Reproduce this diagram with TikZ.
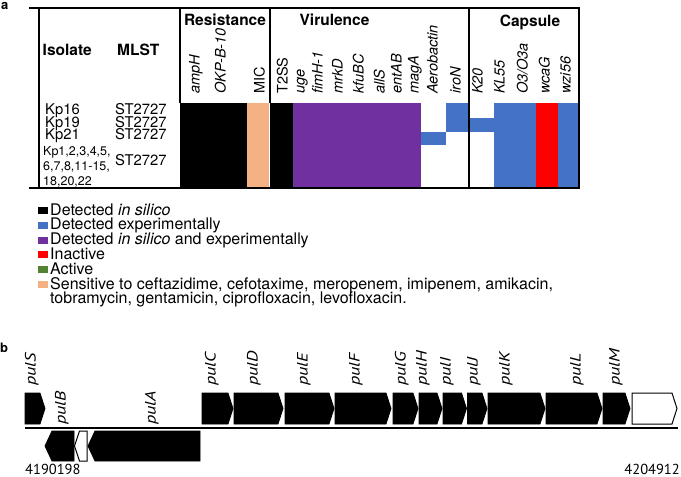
\documentclass[tikz,border=0pt]{standalone}
\usepackage{fontspec}
\setmainfont{TeX Gyre Heros}
\newfontfamily\genefont{PT Sans}
\definecolor{cblue}{RGB}{68,114,196}
\definecolor{cpurple}{RGB}{112,48,160}
\definecolor{cred}{RGB}{255,0,0}
\definecolor{cgreen}{RGB}{84,130,53}
\definecolor{cpeach}{RGB}{244,177,131}
\newcommand{\genefwd}[3]{\draw[#3] (#1,393) -- (#2-5,393) -- (#2,408.5) -- (#2-5,424) -- (#1,424) -- cycle;}
\newcommand{\generev}[4]{\draw[#4] (#1,446) -- (#2,431) -- (#3,431) -- (#3,461) -- (#2,461) -- cycle;}
\newcommand{\legsq}[2]{\fill[#1] (38,#2-8) rectangle (47.5,#2-1);}
\begin{document}
\begin{tikzpicture}[x=1pt,y=-1pt,
  frame/.style={line width=1.8pt},
  hdr/.style={inner sep=0,anchor=base,font=\fontsize{15.5}{15.5}\selectfont\bfseries},
  colhdr/.style={inner sep=0,rotate=90,anchor=mid west,font=\fontsize{14.5}{14.5}\selectfont\itshape},
  colhdrup/.style={colhdr,font=\fontsize{14.5}{14.5}\selectfont},
  rowtxt/.style={inner sep=0,anchor=base west,font=\fontsize{14.8}{14.8}\selectfont},
  smalltxt/.style={inner sep=0,anchor=base west,font=\fontsize{12.5}{12.5}\selectfont},
  legtxt/.style={inner sep=0,anchor=base west,font=\fontsize{16}{16}\selectfont},
  panel/.style={inner sep=0,anchor=base west,font=\fontsize{13}{13}\selectfont\bfseries},
  genelab/.style={inner sep=0,rotate=90,anchor=mid west,font=\genefont\fontsize{15}{15}\selectfont\itshape},
  gene/.style={fill=black,draw=black,line width=0.8pt},
  emptygene/.style={fill=white,draw=black,line width=1pt},
  coordtxt/.style={inner sep=0,anchor=base west,font=\genefont\fontsize{14.5}{14.5}\selectfont},
]
\useasboundingbox (0,0) rectangle (681,477);

% ---------- panel a ----------
\node[panel] (pa) at (1,9.5) {a};

% cells
\fill (180,103) rectangle (247,188);
\fill[cpeach] (247,103) rectangle (268.8,188);
\fill (270,103) rectangle (293,188);
\fill[cpurple] (293,103) rectangle (421,188);
\fill[cblue] (421,132) rectangle (446,145);
\fill[cblue] (446,103) rectangle (469,132);
\fill[cblue] (469,118) rectangle (494,132);
\fill[cblue] (494,103) rectangle (536,188);
\fill[cred] (536,103) rectangle (558,188);
\fill[cblue] (558,103) rectangle (579,188);

% frame
\draw[frame] (29,8) -- (580,8);
\draw[frame] (29,188) -- (580,188);
\draw[frame] (39,8) -- (39,188);
\draw[frame] (180,8) -- (180,103);
\draw[frame] (270,8) -- (270,103);
\draw[frame] (469,8) -- (469,188);
\draw[frame] (579,8) -- (579,188);

% group headers
\node[hdr] (hres) at (225,25) {Resistance};
\node[hdr] (hvir) at (334.5,25) {Virulence};
\node[hdr] (hcap) at (530,26) {Capsule};
\node[hdr,anchor=base west] (hiso) at (42.5,55) {Isolate};
\node[hdr,anchor=base west] (hmlst) at (117,55) {MLST};

% column headers
\node[colhdr] (c1) at (197,94) {ampH};
\node[colhdr] (c2) at (223,94) {OKP-B-10};
\node[colhdrup] (c3) at (262,94) {MIC};
\node[colhdrup] (c4) at (285,94) {T2SS};
\node[colhdr] (c5) at (302,94) {uge};
\node[colhdr] (c6) at (320,94) {fimH-1};
\node[colhdr] (c7) at (340,94) {mrkD};
\node[colhdr] (c8) at (361,94) {kfuBC};
\node[colhdr] (c9) at (382,94) {allS};
\node[colhdr] (c10) at (399,94) {entAB};
\node[colhdr] (c11) at (416,94) {magA};
\node[colhdr] (c12) at (435,94) {Aerobactin};
\node[colhdr] (c13) at (458,94) {iroN};
\node[colhdr] (c14) at (480,94) {K20};
\node[colhdr] (c15) at (502,94) {KL55};
\node[colhdr] (c16) at (525,94) {O3/O3a};
\node[colhdr] (c17) at (547,94) {wcaG};
\node[colhdr] (c18) at (568,94) {wzi56};

% rows
\node[rowtxt] (r1) at (45,114.5) {Kp16};
\node[rowtxt] (r2) at (45,127) {Kp19};
\node[rowtxt] (r3) at (45,139.5) {Kp21};
\node[rowtxt] (m1) at (115,114.5) {ST2727};
\node[rowtxt] (m2) at (115,127) {ST2727};
\node[rowtxt] (m3) at (115,139.5) {ST2727};
\node[smalltxt] (r4a) at (43,155) {Kp1,2,3,4,5,};
\node[smalltxt] (r4b) at (43,170.5) {6,7,8,11-15,};
\node[smalltxt] (r4c) at (43,185) {18,20,22};
\node[rowtxt] (m4) at (115,165.5) {ST2727};

% legend
\legsq{black}{215}
\node[legtxt] (l1) at (50,215) {Detected \textit{in silico}};
\legsq{cblue}{229.8}
\node[legtxt] (l2) at (50,229.8) {Detected experimentally};
\legsq{cpurple}{244.6}
\node[legtxt] (l3) at (50,244.6) {Detected \textit{in silico} and experimentally};
\legsq{cred}{259.4}
\node[legtxt] (l4) at (50,259.4) {Inactive};
\legsq{cgreen}{274.2}
\node[legtxt] (l5) at (50,274.2) {Active};
\legsq{cpeach}{289}
\node[legtxt] (l6) at (50,289) {Sensitive to ceftazidime, cefotaxime, meropenem, imipenem, amikacin,};
\node[legtxt] (l7) at (50,303.8) {tobramycin, gentamicin, ciprofloxacin, levofloxacin.};

% ---------- panel b ----------
\node[panel] (pb) at (0,352) {b};

\draw[line width=1.2pt] (25,428) -- (678,428);

% top strand genes
\genefwd{25}{45}{gene}
\genefwd{202}{233}{gene}
\genefwd{234}{283}{gene}
\genefwd{285}{334}{gene}
\genefwd{335}{391}{gene}
\genefwd{393}{418}{gene}
\genefwd{419}{442}{gene}
\genefwd{443}{466.5}{gene}
\genefwd{467.5}{487}{gene}
\genefwd{488}{545}{gene}
\genefwd{546}{602}{gene}
\genefwd{603}{630}{gene}
\genefwd{632}{677}{emptygene}

% bottom strand genes
\generev{45}{52}{74}{gene}
\generev{74.5}{79.5}{87}{emptygene}
\generev{88}{95}{200}{gene}

% gene labels
\node[genelab] (gS) at (33,386) {\scalebox{1.22}[1]{pulS}};
\node[genelab] (gB) at (63,425) {\scalebox{1.22}[1]{pulB}};
\node[genelab] (gA) at (153,425) {\scalebox{1.22}[1]{pulA}};
\node[genelab] (gC) at (213,386) {\scalebox{1.22}[1]{pulC}};
\node[genelab] (gD) at (255,386) {\scalebox{1.22}[1]{pulD}};
\node[genelab] (gE) at (305,386) {\scalebox{1.22}[1]{pulE}};
\node[genelab] (gF) at (357,386) {\scalebox{1.22}[1]{pulF}};
\node[genelab] (gG) at (403,386) {\scalebox{1.22}[1]{pulG}};
\node[genelab] (gH) at (424,386) {\scalebox{1.22}[1]{pulH}};
\node[genelab] (gI) at (448,386) {\scalebox{1.22}[1]{pulI}};
\node[genelab] (gJ) at (475,386) {\scalebox{1.22}[1]{pulJ}};
\node[genelab] (gK) at (507,386) {\scalebox{1.22}[1]{pulK}};
\node[genelab] (gL) at (578,386) {\scalebox{1.22}[1]{pulL}};
\node[genelab] (gM) at (617,386) {\scalebox{1.22}[1]{pulM}};

% coordinates
\node[coordtxt] (n1) at (25,474.5) {4190198};
\node[coordtxt,anchor=base east] (n2) at (680,474.5) {4204912};
\end{tikzpicture}
\end{document}
